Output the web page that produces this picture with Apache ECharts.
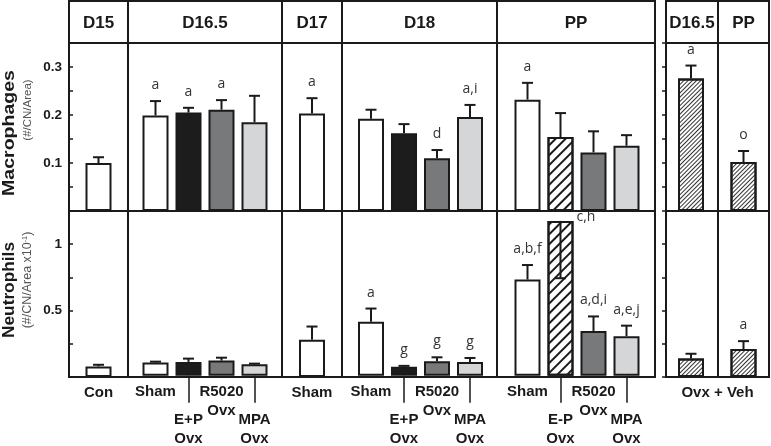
<!DOCTYPE html>
<html><head><meta charset="utf-8">
<script src="https://cdn.jsdelivr.net/npm/echarts@6/dist/echarts.min.js"></script>
<style>html,body{margin:0;padding:0;background:#fff}#c{width:771px;height:446px}</style>
</head><body><div id="c"></div>
<script>
// ---------------- data ----------------
const sectionNames = ['D15', 'D16.5', 'D17', 'D18', 'PP', 'D16.5', 'PP'];
const sectionSizes = [1, 4, 1, 4, 4, 1, 1];
const barNames = ['Con', 'Sham', 'E+P Ovx', 'R5020 Ovx', 'MPA Ovx', 'Sham',
  'Sham', 'E+P Ovx', 'R5020 Ovx', 'MPA Ovx',
  'Sham', 'E-P Ovx', 'R5020 Ovx', 'MPA Ovx',
  'Ovx + Veh', 'Ovx + Veh'];
const macMean = [0.100, 0.199, 0.205, 0.211, 0.185, 0.203, 0.192, 0.162, 0.110, 0.196, 0.232, 0.154, 0.122, 0.136, 0.276, 0.102];
const macCap  = [0.112, 0.229, 0.215, 0.231, 0.240, 0.235, 0.211, 0.181, 0.127, 0.221, 0.267, 0.204, 0.166, 0.158, 0.303, 0.125];
const macSig  = ['', 'a', 'a', 'a', '', 'a', '', '', 'd', 'a,i', 'a', '', '', '', 'a', 'o'];
const neuMean = [0.080, 0.100, 0.105, 0.115, 0.087, 0.280, 0.410, 0.068, 0.110, 0.105, 0.730, 1.175, 0.340, 0.300, 0.140, 0.210];
const neuCap  = [0.092, 0.107, 0.130, 0.137, 0.092, 0.380, 0.510, 0.075, 0.140, 0.135, 0.840, 0.740, 0.450, 0.380, 0.175, 0.270];
const neuSig  = ['', '', '', '', '', '', 'a', 'g', 'g', 'g', 'a,b,f', 'c,h', 'a,d,i', 'a,e,j', '', 'a'];
const macTickLabels = [0.1, 0.2, 0.3];
const neuTickLabels = [0.5, 1];
const rightFootLabel = 'Ovx + Veh';
const macName = 'Macrophages', macUnit = '(#/CN/Area)';
const neuName = 'Neutrophils', neuUnit = '(#/CN/Area x10', neuUnitSup = '-1';

// ---------------- layout ----------------
const sectionBounds = [[69,128],[128,282],[282,342],[342,497],[497,655],[666,718],[718,769]];
const mainBox = [69, 655], rightBox = [666, 769];
const frameTop = 1, headBottom = 43, midY = 211, frameBottom = 377;
const pitch = 33, barW = 26;
const rows = [
  {top: headBottom, h: midY - headBottom, max: 0.35, step: 0.05, mean: macMean, cap: macCap, sig: macSig, labels: macTickLabels},
  {top: midY, h: frameBottom - midY, max: 1.25, step: 0.25, mean: neuMean, cap: neuCap, sig: neuSig, labels: neuTickLabels}
];
const INK = '#1a1a1a';
const boldFont = '"Liberation Sans", Arial, sans-serif';
const hatchWide = {symbol: 'rect', symbolSize: 1, color: INK, dashArrayX: [1, 0], dashArrayY: [2, 5], rotation: -Math.PI / 4};
const hatchDense = {symbol: 'rect', symbolSize: 1, color: '#333', dashArrayX: [1, 0], dashArrayY: [1, 2], rotation: -Math.PI / 4};

function barStyle(name, sec) {
  const base = {borderColor: INK, borderWidth: 2};
  if (sec >= 5) return Object.assign(base, {color: '#fff', decal: hatchDense});
  if (name === 'E-P Ovx') return Object.assign(base, {color: '#fff', decal: hatchWide});
  if (name.indexOf('E+P') === 0) return Object.assign(base, {color: '#1c1c1c'});
  if (name.indexOf('R5020') === 0) return Object.assign(base, {color: '#78797b'});
  if (name.indexOf('MPA') === 0) return Object.assign(base, {color: '#d5d6d8'});
  return Object.assign(base, {color: '#ffffff'});
}
function hasLeader(name) { return /^(E\+P|E-P|MPA)/.test(name); }
function catLabel(name) {
  const parts = name.split(' ');
  if (parts.length === 1) return '{b|' + name + '}';
  if (hasLeader(name)) return '{sp| }\n{b|' + parts[0] + '}\n{b|' + parts.slice(1).join(' ') + '}';
  return '{b|' + parts[0] + '}\n{b|' + parts.slice(1).join(' ') + '}';
}

const grids = [], xAxes = [], yAxes = [], series = [];
rows.forEach((row, r) => {
  let start = 0;
  sectionSizes.forEach((n, s) => {
    const names = barNames.slice(start, start + n);
    const idx = [];
    for (let k = 0; k < n; k++) idx.push(start + k);
    const b = sectionBounds[s];
    const c = (b[0] + b[1]) / 2 + (s === 3 || s === 4 ? 1 : 0) - (s === 5 ? 1 : 0);
    const gi = grids.length;
    grids.push({left: c - n * pitch / 2, width: n * pitch, top: row.top, height: row.h, containLabel: false});
    const bottomRow = r === 1 && s < 5;
    xAxes.push({type: 'category', gridIndex: gi, data: names, boundaryGap: true,
      axisLine: {show: false}, splitLine: {show: false},
      axisTick: {show: bottomRow, alignWithLabel: true, inside: false, length: 27,
        interval: (i, v) => hasLeader(v), lineStyle: {color: INK, width: 1.5}},
      axisLabel: {show: bottomRow, interval: 0, margin: 7, formatter: v => catLabel(v),
        rich: {b: {fontFamily: boldFont, fontWeight: 'bold', fontSize: 15, lineHeight: 18.5, color: INK},
               sp: {fontSize: 2, lineHeight: 28}}}});
    yAxes.push({type: 'value', gridIndex: gi, min: 0, max: row.max, show: false});
    series.push({type: 'bar', xAxisIndex: gi, yAxisIndex: gi, barWidth: barW, z: 2,
      data: idx.map(i => ({value: row.mean[i], itemStyle: barStyle(barNames[i], s)})),
      emphasis: {disabled: true}, silent: true});
    const sig = row.sig;
    series.push({type: 'custom', xAxisIndex: gi, yAxisIndex: gi, z: 5, silent: true,
      data: idx.map((i, k) => [k, row.mean[i], row.cap[i], i]),
      renderItem: (params, api) => {
        const k = api.value(0), m = api.value(1), cp = api.value(2), i = api.value(3);
        const p0 = api.coord([k, m]), p1 = api.coord([k, cp]);
        const ls = {stroke: INK, lineWidth: 2};
        const ch = [
          {type: 'line', shape: {x1: p0[0], y1: p0[1], x2: p1[0], y2: p1[1]}, style: ls},
          {type: 'line', shape: {x1: p1[0] - 5.5, y1: p1[1], x2: p1[0] + 5.5, y2: p1[1]}, style: ls}
        ];
        const t = sig[i];
        if (t) {
          const down = cp < m;
          ch.push({type: 'text', x: down ? p0[0] + barW / 2 + 3 : p1[0], y: down ? p0[1] - 4 : p1[1] - 16,
            style: {text: t, fill: '#333', font: '14px "Open Sans", sans-serif',
              align: down ? 'left' : 'center', verticalAlign: 'middle',
              textAlign: down ? 'left' : 'center', textVerticalAlign: 'middle'}});
        }
        return {type: 'group', children: ch};
      }});
    start += n;
  });
});
// frame grids with y axes
rows.forEach((row, r) => {
  [mainBox, rightBox].forEach((box, side) => {
    const gi = grids.length;
    grids.push({left: box[0], width: box[1] - box[0], top: row.top, height: row.h});
    xAxes.push({type: 'value', gridIndex: gi, show: false, min: 0, max: 1});
    yAxes.push({type: 'value', gridIndex: gi, min: 0, max: row.max, interval: row.step,
      position: side === 0 ? 'left' : 'right',
      axisLine: {show: false}, splitLine: {show: false},
      axisTick: {show: true, inside: true, length: 4, lineStyle: {color: INK, width: 1.5}},
      axisLabel: {show: side === 0, margin: 7, fontFamily: boldFont, fontWeight: 'bold', fontSize: 13.5, color: INK,
        formatter: v => row.labels.some(l => Math.abs(l - v) < 1e-6) ? String(+v.toFixed(2)) : ''}});
  });
});

// graphics: frames, headers, names
const g = [];
const stroke = {stroke: INK, lineWidth: 2, fill: null};
[mainBox, rightBox].forEach(box => {
  g.push({type: 'rect', shape: {x: box[0], y: frameTop, width: box[1] - box[0], height: frameBottom - frameTop}, style: Object.assign({}, stroke, {fill: 'none'}), z: 100});
  [headBottom, midY].forEach(y => g.push({type: 'line', shape: {x1: box[0], y1: y, x2: box[1], y2: y}, style: stroke, z: 100}));
});
sectionBounds.forEach((b, s) => {
  if (s !== 0 && s !== 5) g.push({type: 'line', shape: {x1: b[0], y1: frameTop, x2: b[0], y2: frameBottom}, style: stroke, z: 100});
  g.push({type: 'text', x: (b[0] + b[1]) / 2, y: (frameTop + headBottom) / 2 + 1, z: 100,
    style: {text: sectionNames[s], font: 'bold 17px ' + boldFont, fill: INK, align: 'center', verticalAlign: 'middle', textAlign: 'center', textVerticalAlign: 'middle'}});
});
g.push({type: 'text', x: (rightBox[0] + rightBox[1]) / 2, y: 393, z: 100,
  style: {text: rightFootLabel, font: 'bold 15px ' + boldFont, fill: INK, align: 'center', verticalAlign: 'middle', textAlign: 'center', textVerticalAlign: 'middle'}});
function vtext(text, x, y, font, fill, sx, rich) {
  const o = {type: 'text', x: x, y: y, rotation: Math.PI / 2, scaleX: sx, scaleY: 1, z: 100,
    style: {text: text, font: font, fill: fill, align: 'center', verticalAlign: 'middle', textAlign: 'center', textVerticalAlign: 'middle'}};
  if (rich) o.style.rich = rich;
  return o;
}
g.push(vtext(macName, 10, 133, 'bold 16px ' + boldFont, INK, 1.22));
g.push(vtext(macUnit, 28, 110, '11.5px ' + boldFont, '#555', 1.0));
g.push(vtext(neuName, 10, 290, 'bold 16px ' + boldFont, INK, 1.08));
g.push(vtext('{u|' + neuUnit + '}{s|' + neuUnitSup + '}{u|)}', 28, 280, '12px ' + boldFont, '#555', 1.04,
  {u: {fontSize: 12, fontFamily: boldFont, fill: '#555', color: '#555'}, s: {fontSize: 7, fontFamily: boldFont, fill: '#555', color: '#555', verticalAlign: 'top', padding: [0, 0, 6, 0]}}));

const chart = echarts.init(document.getElementById('c'), null, {renderer: 'canvas'});
chart.setOption({
  animation: false,
  backgroundColor: '#fff',
  grid: grids, xAxis: xAxes, yAxis: yAxes, series: series,
  graphic: {elements: g}
});
</script></body></html>
